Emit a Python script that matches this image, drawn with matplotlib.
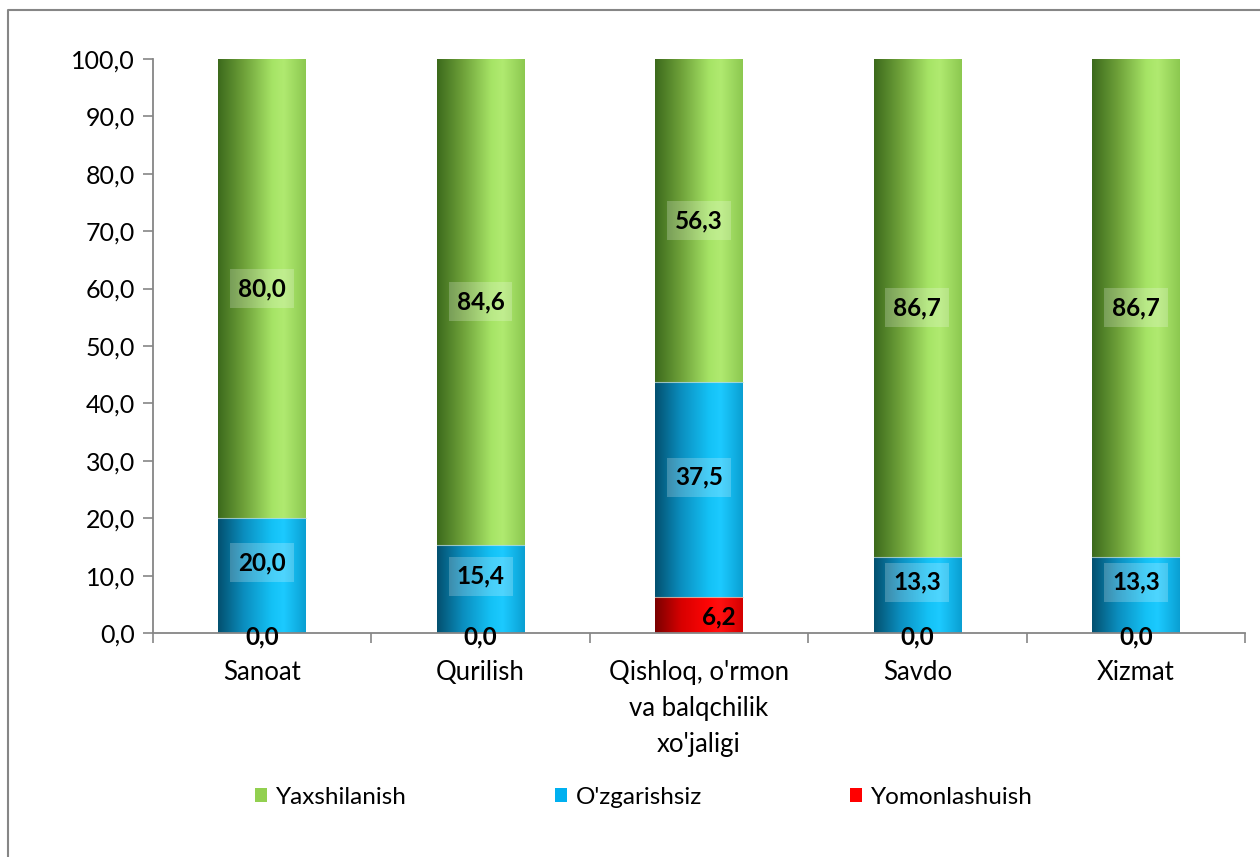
import numpy as np
import matplotlib
matplotlib.use('Agg')
import matplotlib.pyplot as plt
from matplotlib.colors import LinearSegmentedColormap
from matplotlib.lines import Line2D
from matplotlib.patches import Patch

plt.rcParams['font.family'] = ['Lato', 'DejaVu Sans']

#--- data
categories = ['Sanoat', 'Qurilish', "Qishloq, o'rmon\nva balqchilik\nxo'jaligi", 'Savdo', 'Xizmat']
yomon = [0.0, 0.0, 6.2, 0.0, 0.0]
ozgar = [20.0, 15.4, 37.5, 13.3, 13.3]
yaxshi = [80.0, 84.6, 56.3, 86.7, 86.7]
series_names = ['Yaxshilanish', "O'zgarishsiz", 'Yomonlashuish']
legend_cols = ['#92d050', '#00b0f0', '#ff0000']

#gradient colours (left dark -> light -> right a bit darker), like excel's cylinder look
grad = {
  'green': ['#3c6a1c', '#6fa23a', '#a6e466', '#b0ea70', '#8cc850'],
  'blue':  ['#03506f', '#0b8fc0', '#14c2f6', '#1ccaff', '#0a9fd2'],
  'red':   ['#7a0000', '#d80000', '#ff0606', '#ff1010', '#d40000'],
}

fig = plt.figure(figsize=(12.6, 8.57), dpi=100)
ax = fig.add_axes([0.1214, 0.2614, 0.8667, 0.6698])

x = np.arange(len(categories))
w = 0.4
yomon = np.array(yomon); ozgar = np.array(ozgar); yaxshi = np.array(yaxshi)

g = np.linspace(0, 1, 256).reshape(1, -1)
def gradient_bars(vals, bottom, key):
  bars = ax.bar(x, vals, w, bottom=bottom, color='none', edgecolor='none')
  cmap = LinearSegmentedColormap.from_list(key, list(zip([0, 0.3, 0.62, 0.75, 1.0], grad[key])))
  for b in bars:
    if b.get_height() <= 0:
      continue
    x0, y0 = b.get_x(), b.get_y()
    im = ax.imshow(g, cmap=cmap, extent=[x0, x0 + b.get_width(), y0, y0 + b.get_height()],
                   aspect='auto', interpolation='bicubic', zorder=2)
    im.set_clip_path(b)
  return bars

gradient_bars(yomon, 0, 'red')
gradient_bars(ozgar, yomon, 'blue')
gradient_bars(yaxshi, yomon + ozgar, 'green')

#thin light line between segments
for i in range(len(x)):
  for yy in [yomon[i], yomon[i] + ozgar[i]]:
    if yy > 0:
      ax.plot([x[i] - w/2, x[i] + w/2], [yy, yy], color='#d8e8d8', lw=0.8, alpha=0.7, zorder=3)

ax.set_xlim(-0.5, len(categories) - 0.5)
ax.set_ylim(0, 100)
ax.set_yticks(np.arange(0, 101, 10))
ax.set_yticklabels([f'{v:.1f}'.replace('.', ',') for v in np.arange(0, 101, 10)], fontsize=18)
ax.set_xticks(x)
ax.set_xticklabels(categories, fontsize=18.5, linespacing=1.55)
ax.set_xticks(np.arange(-0.5, len(categories)), minor=True)
ax.tick_params(axis='x', which='major', length=0, pad=19.5)
ax.tick_params(axis='x', which='minor', length=7, color='#868686', width=1.2)
ax.tick_params(axis='y', length=7, color='#868686', width=1.2, pad=6)
for s in ['top', 'right']:
  ax.spines[s].set_visible(False)
for s in ['left', 'bottom']:
  ax.spines[s].set_color('#868686')
  ax.spines[s].set_linewidth(1.3)
ax.spines['bottom'].set_zorder(4)

fmt = lambda v: f'{v:.1f}'.replace('.', ',')
box = dict(boxstyle='square,pad=0.33', facecolor='white', alpha=0.22, edgecolor='none')
vfs = 17.5
for i in range(len(x)):
  ax.text(x[i], yomon[i] + ozgar[i] + yaxshi[i]/2, fmt(yaxshi[i]), ha='center', va='center',
          fontsize=vfs, fontweight='bold', bbox=box, zorder=5)
  ax.text(x[i], yomon[i] + ozgar[i]/2 + 2.2, fmt(ozgar[i]), ha='center', va='center',
          fontsize=vfs, fontweight='bold', bbox=box, zorder=5)
  if yomon[i] > 0:
    ax.text(x[i] + w/2 - 0.03, yomon[i]/2 - 0.3, fmt(yomon[i]), ha='right', va='center',
            fontsize=vfs, fontweight='bold', zorder=5)
  else:
    ax.text(x[i], -0.6, fmt(yomon[i]), ha='center', va='center',
            fontsize=vfs, fontweight='bold', zorder=5, clip_on=False)

handles = [Patch(facecolor=c, edgecolor='none') for c in legend_cols]
fig.legend(handles, series_names, loc='center', bbox_to_anchor=(0.511, 0.07), ncol=3, frameon=False,
           fontsize=17.5, handlelength=0.5, handleheight=0.5, handletextpad=0.35, columnspacing=6.1)

#outer chart border (only left and top visible in the crop)
fig.add_artist(Line2D([0.0067, 0.0067, 1.0], [0.0, 0.9883, 0.9883], transform=fig.transFigure,
                      color='#868686', lw=1.5))

fig.savefig('out.png', dpi=100)
